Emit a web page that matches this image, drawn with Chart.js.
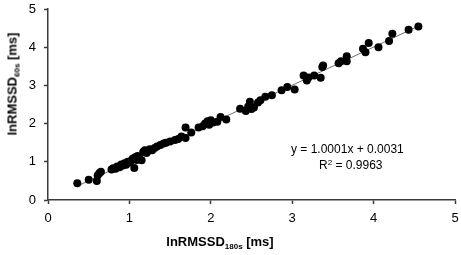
<!DOCTYPE html>
<html>
<head>
<meta charset="utf-8">
<script src="https://cdn.jsdelivr.net/npm/chart.js@4/dist/chart.umd.min.js"></script>
<style>
  html, body { margin: 0; padding: 0; background: #fff; }
  #wrap { position: relative; width: 461px; height: 255px; font-family: Arial, "Liberation Sans", sans-serif; color: #000; }
  canvas { position: absolute; left: 0; top: 0; }
  .lbl { position: absolute; white-space: nowrap; }
  .title { font-weight: bold; font-size: 13px; }
  .title sub { font-size: 8px; vertical-align: -3px; line-height: 0; }
  .eq { font-size: 12px; }
  .eq sup { font-size: 8px; vertical-align: 4px; line-height: 0; }
</style>
</head>
<body>
<div id="wrap">
  <canvas id="c" width="461" height="255"></canvas>
  <div class="lbl title" id="xTitle" style="left:220px; top:241px; transform: translate(-50%, -50%);">lnRMSSD<sub>180s</sub> [ms]</div>
  <div class="lbl title" id="yTitle" style="left:12px; top:84px; transform: translate(-50%, -50%) rotate(-90deg);">lnRMSSD<sub>60s</sub> [ms]</div>
  <div class="lbl eq" style="left:291px; top:142px;">y = 1.0001x + 0.0031</div>
  <div class="lbl eq" style="left:319px; top:158px;">R<sup>2</sup> = 0.9963</div>
</div>
<script>
// lnRMSSD 180 s recording (x) vs 60 s recording (y)
const rmssd180 = [
  0.36, 0.50, 0.60, 0.61, 0.63, 0.65, 0.78, 0.80, 0.83, 0.85,
  0.88, 0.90, 0.92, 0.94, 0.96, 0.98, 1.00, 1.02, 1.04, 1.06,
  1.07, 1.09, 1.10, 1.12, 1.15, 1.17, 1.19, 1.21, 1.23, 1.25,
  1.28, 1.31, 1.34, 1.38, 1.42, 1.45, 1.50, 1.56, 1.60, 1.64,
  1.69, 1.69, 1.76, 1.85, 1.90, 1.93, 1.96, 1.98, 2.00, 2.03,
  2.08, 2.12, 2.19, 2.36, 2.43, 2.46, 2.48, 2.50, 2.53, 2.58,
  2.61, 2.67, 2.75, 2.87, 2.94, 3.03, 3.14, 3.18, 3.20, 3.27,
  3.35, 3.37, 3.38, 3.57, 3.60, 3.67, 3.67, 3.87, 3.90, 3.94,
  4.06, 4.19, 4.23, 4.43, 4.55
]
const rmssd60 = [
  0.44, 0.53, 0.50, 0.64, 0.70, 0.74, 0.80, 0.83, 0.82, 0.88,
  0.86, 0.93, 0.90, 0.96, 0.92, 1.00, 0.98, 1.03, 1.08, 0.84,
  1.12, 1.05, 1.15, 1.10, 1.04, 1.26, 1.30, 1.23, 1.28, 1.33,
  1.30, 1.36, 1.40, 1.44, 1.48, 1.50, 1.53, 1.57, 1.60, 1.66,
  1.62, 1.90, 1.77, 1.90, 1.93, 2.00, 2.06, 1.97, 2.09, 2.03,
  2.05, 2.17, 2.11, 2.39, 2.33, 2.45, 2.57, 2.38, 2.42, 2.55,
  2.61, 2.70, 2.74, 2.87, 2.96, 2.89, 3.26, 3.13, 3.21, 3.26,
  3.20, 3.48, 3.52, 3.58, 3.63, 3.76, 3.63, 3.96, 3.87, 4.11,
  4.00, 4.16, 4.35, 4.46, 4.54
]

// linear fit from the figure
const slope = 1.0001
const intercept = 0.0031
const fitX = [0.36, 4.55]

const axisTicks = [0, 1, 2, 3, 4, 5]

const points = rmssd180.map((x, i) => ({ x: x, y: rmssd60[i] }))
const fitLine = fitX.map(x => ({ x: x, y: slope * x + intercept }))

const axisColor = '#3a3a3a'
const tickFont = { family: 'Arial, "Liberation Sans", sans-serif', size: 13 }

new Chart(document.getElementById('c'), {
  type: 'scatter',
  data: {
    datasets: [
      {
        data: fitLine,
        type: 'line',
        borderColor: '#6e6e6e',
        borderWidth: 1,
        pointRadius: 0,
        order: 2
      },
      {
        data: points,
        backgroundColor: '#000',
        borderColor: '#000',
        pointRadius: 4,
        borderWidth: 0,
        order: 1
      }
    ]
  },
  options: {
    responsive: false,
    animation: false,
    layout: { padding: 0 },
    plugins: { legend: { display: false }, tooltip: { enabled: false } },
    scales: {
      x: {
        type: 'linear',
        min: 0,
        max: 5,
        afterBuildTicks: (axis) => { axis.ticks = axisTicks.map(v => ({ value: v })) },
        afterFit: (axis) => {
          axis.height = 55
          axis.paddingLeft = 0
          axis.paddingRight = 6
        },
        border: { color: axisColor, width: 1.5 },
        grid: { drawOnChartArea: false, color: axisColor, tickLength: 4, tickWidth: 1.5 },
        ticks: { color: '#000', font: tickFont, padding: 7, maxRotation: 0 }
      },
      y: {
        type: 'linear',
        min: 0,
        max: 5,
        afterBuildTicks: (axis) => { axis.ticks = axisTicks.map(v => ({ value: v })) },
        afterFit: (axis) => {
          axis.width = 48
          axis.paddingTop = 9
          axis.paddingBottom = 0
        },
        border: { color: axisColor, width: 1.5 },
        grid: { drawOnChartArea: false, color: axisColor, tickLength: 4, tickWidth: 1.5 },
        ticks: { color: '#000', font: tickFont, padding: 8 }
      }
    }
  }
})
</script>
</body>
</html>
